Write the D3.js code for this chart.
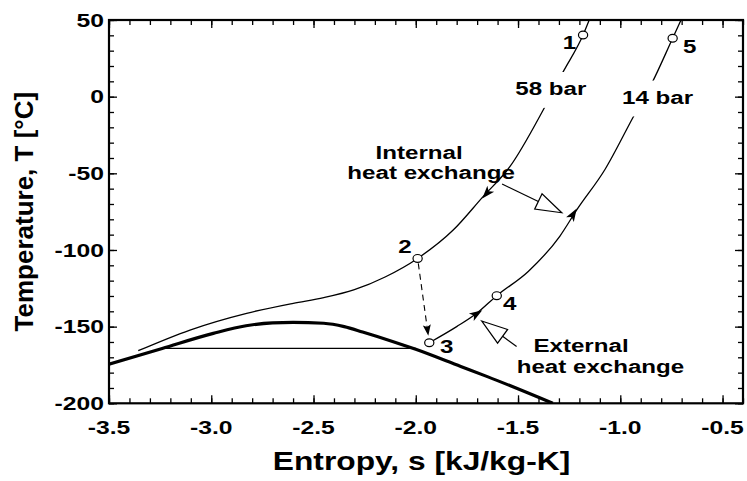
<!DOCTYPE html>
<html>
<head>
<meta charset="utf-8">
<script src="https://cdn.jsdelivr.net/npm/d3@7"></script>
<style>
  body { margin: 0; background: #fff; }
  text { font-family: "Liberation Sans", Arial, sans-serif; font-weight: bold; fill: #000; }
</style>
</head>
<body>
<svg id="chart" width="747" height="481"></svg>
<script>
// axis ticks
const sMajor = [-3.5, -3.0, -2.5, -2.0, -1.5, -1.0, -0.5];
const tMajor = [50, 0, -50, -100, -150, -200];

// saturation dome (thick)
const domeS = [-3.5, -3.24, -2.99, -2.83, -2.7, -2.6, -2.45, -2.35, -2.26, -2.11, -2.0, -1.78, -1.65, -1.33];
const domeT = [-174.5, -164.2, -154.4, -149.4, -147.5, -147.2, -147.8, -150.0, -153.5, -159.8, -164.8, -176.0, -182.6, -200];

// 58 bar isobar
const hpS = [-3.357, -3.104, -2.827, -2.599, -2.45, -2.3, -2.15, -1.991, -1.817, -1.671, -1.54, -1.377, -1.279, -1.182, -1.152];
const hpT = [-165.7, -152.2, -141.3, -134.8, -131.1, -125.9, -117.6, -105.5, -87, -65.2, -45.7, -8.7, 16.3, 40.2, 50];

// 14 bar isobar
const lpS = [-1.934, -1.8, -1.702, -1.604, -1.45, -1.295, -1.213, -1.075, -0.936, -0.846, -0.744, -0.703];
const lpT = [-160.5, -150.0, -141.3, -129.8, -114, -90.9, -73.9, -47.5, -13.1, 8.7, 38.1, 50];

// two-phase isotherm
const isoS = [-3.242, -2.0];
const isoT = [-164.2, -164.2];

// state points
const stateNames = ["1", "2", "3", "4", "5"];
const stateS = [-1.182, -1.991, -1.934, -1.604, -0.744];
const stateT = [40.2, -105.5, -160.5, -129.8, 38.1];

const width = 747, height = 481;
const svg = d3.select("#chart");

const x = d3.scaleLinear().domain([-3.5, -0.4]).range([109, 743]);
const y = d3.scaleLinear().domain([-200, 50]).range([403.3, 20]);

const zip = (a, b) => a.map((v, i) => [v, b[i]]);

svg.append("clipPath").attr("id", "plot")
  .append("rect")
  .attr("x", x(-3.5)).attr("y", y(50))
  .attr("width", x(-0.4) - x(-3.5)).attr("height", y(-200) - y(50));

// ticks, all pointing inwards
const sMinor = d3.range(-35, -3).map(d => d / 10);
const tMinor = d3.range(-20, 6).map(d => d * 10);

const tickAxis = (axis, scale, vals, size) =>
  axis(scale).tickValues(vals).tickSize(-size).tickFormat("");

[[d3.axisBottom, `translate(0,${y(-200)})`], [d3.axisTop, `translate(0,${y(50)})`]].forEach(([ax, tr]) => {
  svg.append("g").attr("transform", tr).call(tickAxis(ax, x, sMinor, 5));
  svg.append("g").attr("transform", tr).call(tickAxis(ax, x, sMajor, 8));
});
[[d3.axisLeft, `translate(${x(-3.5)},0)`], [d3.axisRight, `translate(${x(-0.4)},0)`]].forEach(([ax, tr]) => {
  svg.append("g").attr("transform", tr).call(tickAxis(ax, y, tMinor, 5));
  svg.append("g").attr("transform", tr).call(tickAxis(ax, y, tMajor, 8));
});
svg.selectAll(".domain").remove();
svg.selectAll(".tick line").attr("stroke", "#000").attr("stroke-width", 1.3);

// tick labels (wide bold face)
svg.append("g").selectAll("text")
  .data(sMajor).join("text")
  .attr("transform", d => `translate(${x(d)},${y(-200) + 30.5}) scale(1.3,1)`)
  .attr("text-anchor", "middle")
  .style("font-size", "19px")
  .text(d => d.toFixed(1));

svg.append("g").selectAll("text")
  .data(tMajor).join("text")
  .attr("transform", d => `translate(${x(-3.5) - 5},${y(d) + 6.8}) scale(1.3,1)`)
  .attr("text-anchor", "end")
  .style("font-size", "19px")
  .text(d => d);

// frame
svg.append("rect")
  .attr("x", x(-3.5)).attr("y", y(50))
  .attr("width", x(-0.4) - x(-3.5)).attr("height", y(-200) - y(50))
  .attr("fill", "none").attr("stroke", "#000").attr("stroke-width", 2.2);

// axis titles
svg.append("text")
  .attr("transform", `translate(421.5,470) scale(1.27,1)`)
  .attr("text-anchor", "middle")
  .style("font-size", "25px")
  .text("Entropy, s [kJ/kg-K]");

svg.append("text")
  .attr("transform", `translate(33,${(y(50) + y(-200)) / 2}) rotate(-90)`)
  .attr("text-anchor", "middle")
  .style("font-size", "26px")
  .text("Temperature, T [°C]");

// curves
const plot = svg.append("g").attr("clip-path", "url(#plot)");
const smooth = d3.line()
  .x(d => x(d[0])).y(d => y(d[1]))
  .curve(d3.curveMonotoneX);

plot.append("path").attr("d", smooth(zip(domeS, domeT)))
  .attr("fill", "none").attr("stroke", "#000").attr("stroke-width", 3.2);
plot.append("path").attr("d", d3.line().x(d => x(d[0])).y(d => y(d[1]))(zip(isoS, isoT)))
  .attr("fill", "none").attr("stroke", "#000").attr("stroke-width", 1.1);
plot.append("path").attr("d", smooth(zip(hpS, hpT)))
  .attr("fill", "none").attr("stroke", "#000").attr("stroke-width", 1.3);
plot.append("path").attr("d", smooth(zip(lpS, lpT)))
  .attr("fill", "none").attr("stroke", "#000").attr("stroke-width", 1.3);

// filled arrow heads along the isobars: [tailS, tailT, tipS, tipT]
const flowArrows = [
  [-1.54, -45.7, -1.675, -66.5],
  [-1.80, -150.0, -1.675, -139.3],
  [-1.295, -90.9, -1.213, -73.0]
];

function headPath(tail, tip, len, hw, notch) {
  const dx = tip[0] - tail[0], dy = tip[1] - tail[1];
  const L = Math.hypot(dx, dy), ux = dx / L, uy = dy / L, px = -uy, py = ux;
  const bx = tip[0] - ux * len, by = tip[1] - uy * len;
  const nx = tip[0] - ux * len * (1 - notch), ny = tip[1] - uy * len * (1 - notch);
  return `M${tip[0]},${tip[1]}L${bx + px * hw},${by + py * hw}L${nx},${ny}L${bx - px * hw},${by - py * hw}Z`;
}

svg.append("g").selectAll("path")
  .data(flowArrows).join("path")
  .attr("d", d => headPath([x(d[0]), y(d[1])], [x(d[2]), y(d[3])], 13, 4.5, 0.25))
  .attr("fill", "#000");

// throttling 2 -> 3 (dashed)
{
  const p2 = [x(stateS[1]), y(stateT[1])], p3 = [x(stateS[2]), y(stateT[2])];
  const dx = p3[0] - p2[0], dy = p3[1] - p2[1], L = Math.hypot(dx, dy);
  const tip = [p3[0] - dx / L * 7, p3[1] - dy / L * 7];
  const start = [p2[0] + dx / L * 5, p2[1] + dy / L * 5];
  svg.append("line")
    .attr("x1", start[0]).attr("y1", start[1])
    .attr("x2", tip[0] - dx / L * 6).attr("y2", tip[1] - dy / L * 6)
    .attr("stroke", "#000").attr("stroke-width", 1.1)
    .attr("stroke-dasharray", "6,4.5");
  svg.append("path").attr("d", headPath(start, tip, 11, 4, 0.2)).attr("fill", "#000");
}

// hollow annotation arrows: [tailS, tailT, tipS, tipT]
const noteArrows = [
  [-1.578, -57.0, -1.286, -75.7],
  [-1.507, -163.0, -1.678, -146.3]
];
noteArrows.forEach(d => {
  const a = [x(d[0]), y(d[1])], b = [x(d[2]), y(d[3])];
  const dx = b[0] - a[0], dy = b[1] - a[1], L = Math.hypot(dx, dy);
  const ux = dx / L, uy = dy / L, len = 26, hw = 8.5;
  const base = [b[0] - ux * len, b[1] - uy * len];
  svg.append("line")
    .attr("x1", a[0]).attr("y1", a[1]).attr("x2", base[0]).attr("y2", base[1])
    .attr("stroke", "#000").attr("stroke-width", 1.2);
  svg.append("path")
    .attr("d", `M${b[0]},${b[1]}L${base[0] - uy * hw},${base[1] + ux * hw}L${base[0] + uy * hw},${base[1] - ux * hw}Z`)
    .attr("fill", "#fff").attr("stroke", "#000").attr("stroke-width", 1.2);
});

// state point markers
svg.append("g").selectAll("ellipse")
  .data(stateS.map((s, i) => [s, stateT[i]])).join("ellipse")
  .attr("cx", d => x(d[0])).attr("cy", d => y(d[1]))
  .attr("rx", 4.6).attr("ry", 3.9)
  .attr("fill", "#fff").attr("stroke", "#000").attr("stroke-width", 1.2);

// labels: text, s, T, anchor, knockout
const notes = [
  ["1", -1.216, 31.4, "end", false],
  ["5", -0.693, 28.8, "start", false],
  ["58 bar", -1.340, 1.1, "middle", true],
  ["14 bar", -0.818, -4.5, "middle", true],
  ["Internal", -1.984, -40.7, "middle", false],
  ["heat exchange", -1.925, -53.7, "middle", false],
  ["2", -2.053, -102.2, "middle", false],
  ["3", -1.881, -167.0, "start", false],
  ["4", -1.573, -139.2, "start", false],
  ["External", -1.192, -166.4, "middle", false],
  ["heat exchange", -1.097, -180.3, "middle", false]
];

notes.forEach(([txt, s, t, anchor, knock]) => {
  const g = svg.append("g").attr("transform", `translate(${x(s)},${y(t)}) scale(1.27,1)`);
  const label = g.append("text").attr("text-anchor", anchor).style("font-size", "19px").text(txt);
  if (knock) {
    const bb = label.node().getBBox();
    g.insert("rect", "text")
      .attr("x", bb.x - 2).attr("y", bb.y - 5.5)
      .attr("width", bb.width + 4).attr("height", bb.height + 14)
      .attr("fill", "#fff");
  }
});
</script>
</body>
</html>
